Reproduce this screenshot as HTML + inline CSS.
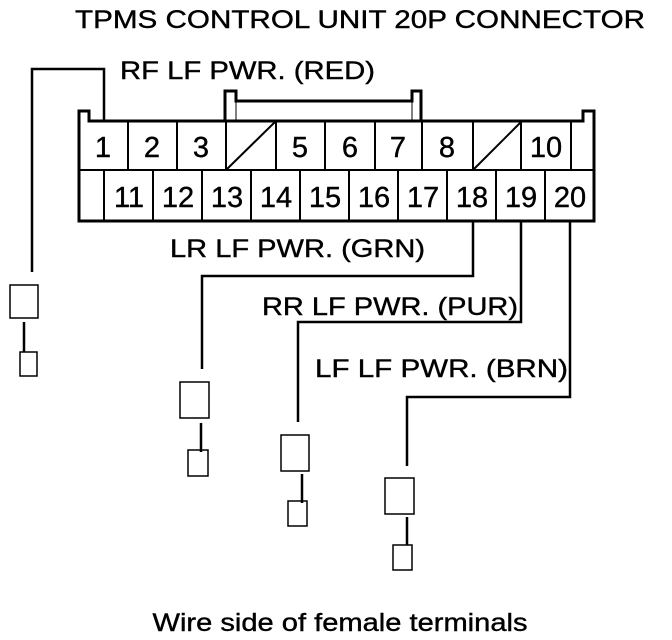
<!DOCTYPE html>
<html><head><style>body{margin:0;background:#fff}svg{display:block}</style></head><body>
<svg width="672" height="640" viewBox="0 0 672 640" xmlns="http://www.w3.org/2000/svg" font-family="Liberation Sans, Arial, sans-serif" fill="#000">
<g font-size="25" stroke="#000" stroke-width="0.4">
<text x="75" y="28" textLength="570" lengthAdjust="spacingAndGlyphs">TPMS CONTROL UNIT 20P CONNECTOR</text>
<text x="120" y="79" textLength="255" lengthAdjust="spacingAndGlyphs">RF LF PWR. (RED)</text>
<text x="170" y="257" textLength="255" lengthAdjust="spacingAndGlyphs">LR LF PWR. (GRN)</text>
<text x="262" y="315" textLength="256" lengthAdjust="spacingAndGlyphs">RR LF PWR. (PUR)</text>
<text x="315" y="377" textLength="253" lengthAdjust="spacingAndGlyphs">LF LF PWR. (BRN)</text>
<text x="340" y="631" text-anchor="middle" textLength="375" lengthAdjust="spacingAndGlyphs">Wire side of female terminals</text>
</g>
<g fill="none" stroke="#000">
<path d="M79 221 V111 H89 V121 H583 V111 H594 V221 Z" stroke-width="3"/>
<line x1="79" y1="170" x2="594" y2="170" stroke-width="2"/>
<path d="M225 121 V91 H236 V101 H412 V91 H421 V121" stroke-width="3"/>
<line x1="236" y1="101" x2="236" y2="121" stroke-width="1"/>
<line x1="412" y1="101" x2="412" y2="121" stroke-width="1"/>
<g stroke-width="2">
<path d="M128 121V170M177 121V170M226 121V170M276 121V170M325 121V170M375 121V170M422 121V170M473 121V170M521 121V170M571 121V170"/>
<path d="M104 170V221M153 170V221M202 170V221M251 170V221M300 170V221M349 170V221M398 170V221M447 170V221M496 170V221M545 170V221"/>
<path d="M226 170L276 121M473 170L521 122"/>
</g>
<g stroke-width="2.5">
<path d="M104 121V69H32V272"/>
<path d="M473 221V276H202V369"/>
<path d="M521 221V322H298V422"/>
<path d="M570 221V397H407V466"/>
<path d="M24 322V352M201 423V452M302 474V503M407 517V545"/>
</g>
<g stroke-width="1.5">
<rect x="10" y="285" width="28" height="33"/>
<rect x="20" y="352" width="17" height="24"/>
<rect x="180" y="382" width="29" height="36"/>
<rect x="188" y="450" width="20" height="26"/>
<rect x="281" y="435" width="28" height="36"/>
<rect x="288" y="501" width="19" height="25"/>
<rect x="385" y="478" width="29" height="36"/>
<rect x="393" y="545" width="19" height="25"/>
</g>
</g>
<g font-size="29" text-anchor="middle" stroke="#000" stroke-width="0.4">
<text x="103" y="157">1</text><text x="152" y="157">2</text><text x="201" y="157">3</text>
<text x="300" y="157">5</text><text x="350" y="157">6</text><text x="398" y="157">7</text><text x="447" y="157">8</text><text x="546" y="157">10</text>
<text x="129" y="207">11</text><text x="178" y="207">12</text><text x="227" y="207">13</text><text x="276" y="207">14</text><text x="325" y="207">15</text>
<text x="374" y="207">16</text><text x="423" y="207">17</text><text x="472" y="207">18</text><text x="521" y="207">19</text><text x="570" y="207">20</text>
</g>
</svg>
</body></html>
